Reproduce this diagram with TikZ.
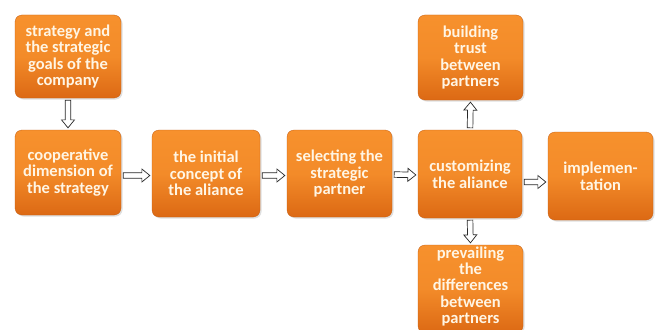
\documentclass[tikz,border=0pt]{standalone}
\usepackage{fontspec}
\setmainfont{Carlito}
\usetikzlibrary{calc,shadows}
\definecolor{boxtop}{RGB}{247,145,45}
\definecolor{boxbot}{RGB}{220,105,20}
\definecolor{boxtext}{RGB}{255,245,228}
\definecolor{arrowline}{RGB}{40,40,40}
\tikzset{
  stagebox/.style={rounded corners=7pt, top color=boxtop, bottom color=boxbot,
    middle color=boxtop!85!boxbot,
    draw=boxbot!90!black, line width=0.3pt,
    drop shadow={shadow xshift=1.5pt, shadow yshift=-1.5pt, opacity=0.25},
    text=boxtext, align=center, font=\bfseries\fontsize{16.5}{16.6}\selectfont,
    inner sep=0pt},
  blockarrow/.style={draw=arrowline, fill=white, line width=0.7pt, line join=miter,
    to path={
      ($(\tikztostart)!2pt!(\tikztotarget)$) coordinate (bs)
      ($(\tikztotarget)!2pt!(\tikztostart)$) coordinate (bt)
      ($(bt)!8pt!(bs)$) coordinate (be)
      ($(bs)!2.8pt!90:(bt)$) -- ($(be)!2.8pt!90:(bt)$) -- ($(be)!6.5pt!90:(bt)$)
      -- (bt) -- ($(be)!6.5pt!-90:(bt)$) -- ($(be)!2.8pt!-90:(bt)$)
      -- ($(bs)!2.8pt!-90:(bt)$) -- cycle}}
}
\begin{document}
\begin{tikzpicture}[x=1pt,y=-1pt]
\useasboundingbox[fill=white] (0,0) rectangle (655,329);
\node[stagebox, minimum width=106pt, minimum height=83pt] (goals) at (68,56.5)
  {strategy and\\the strategic\\goals of the\\company};
\node[stagebox, minimum width=106pt, minimum height=85pt] (coop) at (68,172.5)
  {cooperative\\dimension of\\the strategy};
\node[stagebox, minimum width=108pt, minimum height=87pt] (initial) at (206,173.5)
  {the initial\\concept of\\the aliance};
\node[stagebox, minimum width=105pt, minimum height=87pt] (select) at (339.5,173.5)
  {selecting the\\strategic\\partner};
\node[stagebox, minimum width=104pt, minimum height=88pt] (custom) at (470,174)
  {customizing\\the aliance};
\node[stagebox, minimum width=105pt, minimum height=88pt] (impl) at (600.5,176)
  {implemen-\\tation};
\node[stagebox, minimum width=105pt, minimum height=85pt] (trust) at (470.5,57.5)
  {building\\trust\\between\\partners};
\node[stagebox, minimum width=105pt, minimum height=88pt, text height=0pt] (prev) at (470.5,289)
  {};
\node[text=boxtext, align=center, font=\bfseries\fontsize{16.5}{16.2}\selectfont, inner sep=0pt]
  (prevtext) at (470.5,286.5) {prevailing\\the\\differences\\between\\partners};

\draw[blockarrow] (goals.south) to (coop.north);
\draw[blockarrow] ($(coop.east)+(0,3)$) to ($(initial.west)+(0,2)$);
\draw[blockarrow] ($(initial.east)+(0,2)$) to ($(select.west)+(0,2)$);
\draw[blockarrow] ($(select.east)+(0,1)$) to ($(custom.west)+(0,1)$);
\draw[blockarrow] ($(custom.east)+(0,8)$) to ($(impl.west)+(0,6)$);
\draw[blockarrow] (custom.north) to (trust.south);
\draw[blockarrow] (custom.south) to (prev.north);
\end{tikzpicture}
\end{document}
